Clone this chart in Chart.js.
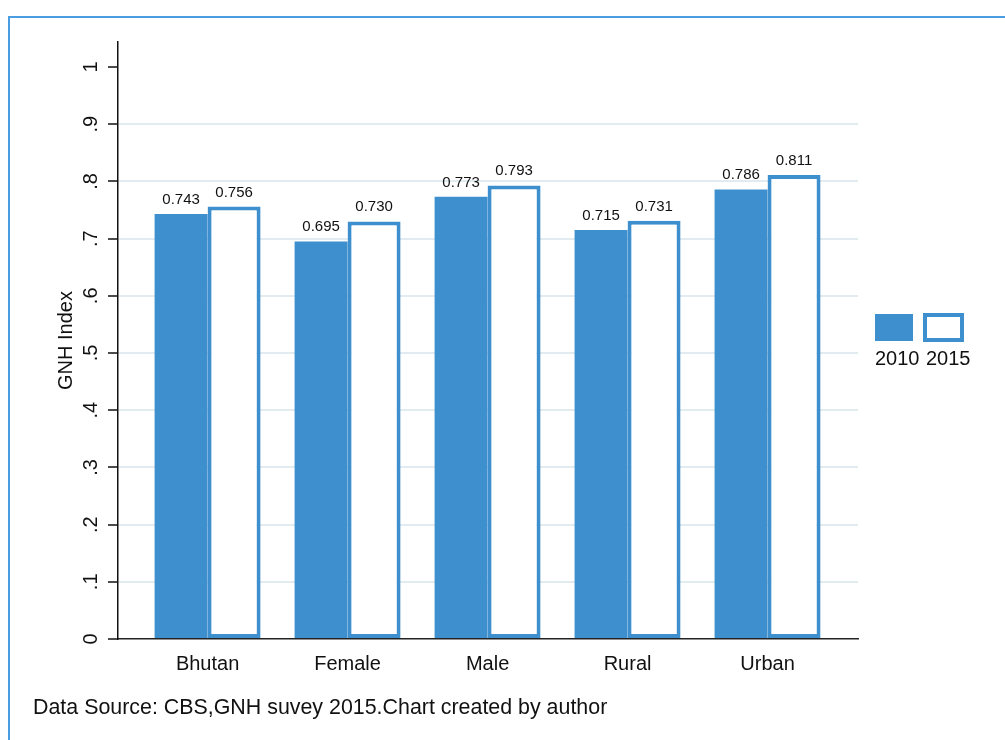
<!DOCTYPE html>
<html>
<head>
<meta charset="utf-8">
<script src="https://cdn.jsdelivr.net/npm/chart.js@4.4.0/dist/chart.umd.min.js"></script>
<style>
  html, body { margin: 0; padding: 0; background: #fff; overflow: hidden; }
  #wrap { position: relative; width: 1005px; height: 740px; }
  #frame { position: absolute; left: 8px; top: 16px; width: 1100px; height: 800px;
           border: 2px solid #4a9de0; box-sizing: border-box; }
  canvas { position: absolute; left: 0; top: 0; }
</style>
</head>
<body>
<div id="wrap">
  <div id="frame"></div>
  <canvas id="chart" width="1005" height="740"></canvas>
</div>
<script>
// GNH index by group, 2010 vs 2015
const categories = ['Bhutan', 'Female', 'Male', 'Rural', 'Urban'];
const years = ['2010', '2015'];
const gnh2010 = [0.743, 0.695, 0.773, 0.715, 0.786];
const gnh2015 = [0.756, 0.730, 0.793, 0.731, 0.811];
const yTickValues = [0, 0.1, 0.2, 0.3, 0.4, 0.5, 0.6, 0.7, 0.8, 0.9, 1];
const yTickLabels = ['0', '.1', '.2', '.3', '.4', '.5', '.6', '.7', '.8', '.9', '1'];
const sourceNote = 'Data Source: CBS,GNH suvey 2015.Chart created by author';

const BLUE = '#3d8fce';
const FONT = '"Liberation Sans", Arial, Helvetica, sans-serif';

const toPoints = vals => vals.map((v, i) => ({ x: i, y: v }));

// value labels above each bar
const valueLabels = {
  id: 'valueLabels',
  afterDatasetsDraw(chart) {
    const ctx = chart.ctx;
    ctx.save();
    ctx.font = '15px ' + FONT;
    ctx.fillStyle = '#111';
    ctx.textAlign = 'center';
    ctx.textBaseline = 'alphabetic';
    chart.data.datasets.forEach((ds, di) => {
      chart.getDatasetMeta(di).data.forEach((bar, i) => {
        ctx.fillText(ds.data[i].y.toFixed(3), bar.x, bar.y - 10);
      });
    });
    ctx.restore();
  }
};

// rotated y tick labels
const yLabels = {
  id: 'yLabels',
  afterDraw(chart) {
    const ctx = chart.ctx;
    const ys = chart.scales.y;
    ctx.save();
    ctx.font = '20px ' + FONT;
    ctx.fillStyle = '#111';
    ctx.textAlign = 'center';
    ctx.textBaseline = 'middle';
    yTickValues.forEach((v, i) => {
      ctx.save();
      ctx.translate(91.5, ys.getPixelForValue(v));
      ctx.rotate(-Math.PI / 2);
      ctx.fillText(yTickLabels[i], 0, 0);
      ctx.restore();
    });
    ctx.restore();
  }
};

// legend keys on the right, year labels beneath, plus the source note
const sideLegend = {
  id: 'sideLegend',
  afterDraw(chart) {
    const ctx = chart.ctx;
    const ds = chart.data.datasets;
    ctx.save();
    ctx.fillStyle = ds[0].backgroundColor;
    ctx.fillRect(875, 314, 38, 27);
    ctx.fillStyle = ds[1].backgroundColor;
    ctx.fillRect(923, 313, 41, 29);
    ctx.strokeStyle = ds[1].borderColor;
    ctx.lineWidth = 4;
    ctx.strokeRect(925, 315, 37, 25);

    ctx.font = '20px ' + FONT;
    ctx.fillStyle = '#111';
    ctx.textAlign = 'left';
    ctx.textBaseline = 'alphabetic';
    ctx.fillText(ds[0].label, 875, 365);
    ctx.fillText(ds[1].label, 926, 365);

    ctx.font = '21.4px ' + FONT;
    ctx.textBaseline = 'middle';
    ctx.fillText(sourceNote, 33, 708);
    ctx.restore();
  }
};

new Chart(document.getElementById('chart'), {
  type: 'bar',
  data: {
    datasets: [
      { label: years[0], data: toPoints(gnh2010), backgroundColor: BLUE, borderWidth: 0 },
      { label: years[1], data: toPoints(gnh2015), backgroundColor: '#ffffff',
        borderColor: BLUE, borderWidth: 4, borderSkipped: false }
    ]
  },
  options: {
    responsive: false,
    animation: false,
    events: [],
    layout: { padding: { top: 42, right: 147, left: 0, bottom: 0 } },
    datasets: { bar: { categoryPercentage: 0.757, barPercentage: 1 } },
    plugins: { legend: { display: false }, tooltip: { enabled: false } },
    scales: {
      x: {
        type: 'linear',
        offset: false,
        bounds: 'data',
        min: -0.64,
        max: 4.646,
        afterBuildTicks: s => { s.ticks = categories.map((_, i) => ({ value: i })); },
        afterFit: s => { s.height = 101; },
        grid: { display: false, drawTicks: false, offset: false },
        border: { display: true, color: '#222', width: 1.5 },
        ticks: {
          callback: v => categories[v],
          font: { size: 20, family: FONT },
          color: '#111',
          padding: 13,
          maxRotation: 0,
          autoSkip: false
        }
      },
      y: {
        type: 'linear',
        bounds: 'data',
        min: 0,
        max: 1.0437,
        afterBuildTicks: s => { s.ticks = yTickValues.map(v => ({ value: v })); },
        afterFit: s => { s.width = 118; },
        grid: {
          color: c => (c.tick && (c.tick.value === 0 || c.tick.value === 1)) ? 'rgba(0,0,0,0)' : '#e2ebef',
          lineWidth: 2,
          drawTicks: true,
          tickLength: 10,
          tickColor: '#111',
          tickWidth: 1.5
        },
        border: { display: true, color: '#111', width: 1.5 },
        ticks: { display: false },
        title: {
          display: true,
          text: 'GNH Index',
          font: { size: 20, family: FONT },
          color: '#111',
          padding: { top: 54, bottom: 0 }
        }
      }
    }
  },
  plugins: [valueLabels, yLabels, sideLegend]
});
</script>
</body>
</html>
